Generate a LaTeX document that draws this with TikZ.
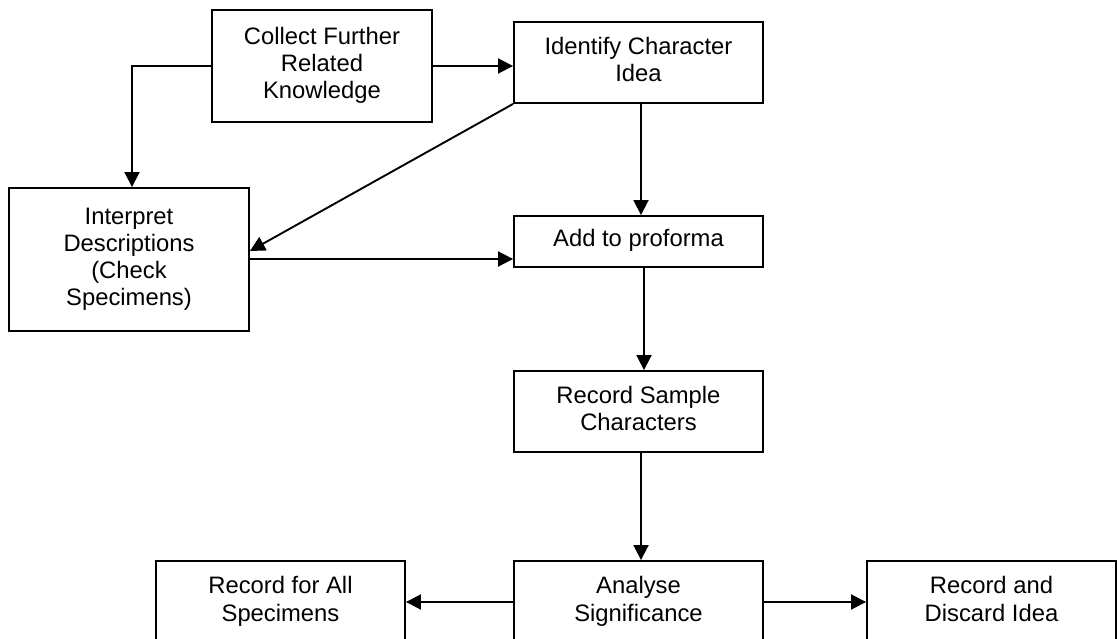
\documentclass[tikz,border=0pt]{standalone}
\usepackage{fontspec}
\setmainfont{Liberation Sans}
\usetikzlibrary{arrows.meta}
\tikzset{
  box/.style={draw=black, line width=1.9pt, fill=white, align=center, inner sep=0pt,
    font=\fontsize{23.8}{27.3}\selectfont},
  arr/.style={draw=black, line width=1.9pt, -{Triangle[length=15pt,width=15pt]}},
}
\begin{document}
\begin{tikzpicture}[x=1pt,y=-1pt]
\useasboundingbox (0,0) rectangle (1117,639);
\clip (0,0) rectangle (1117,639);
\fill[white] (0,0) rectangle (1117,639);

\node[box, minimum width=220pt, minimum height=112pt] (collect) at (322,66) {\strut Collect Further\\Related\\Knowledge\strut};
\node[box, minimum width=249pt, minimum height=81pt] (identify) at (638.5,62.5) {\strut Identify Character\\Idea\strut};
\node[box, minimum width=240pt, minimum height=143pt] (interpret) at (129,259.5) {\strut Interpret\\Descriptions\\(Check\\Specimens)\strut};
\node[box, minimum width=249pt, minimum height=51pt] (add) at (638.5,241.5) {\strut Add to proforma\strut};
\node[box, minimum width=249pt, minimum height=81pt] (record) at (638.5,411.5) {\strut Record Sample\\Characters\strut};
\node[box, minimum width=249pt, minimum height=82pt] (analyse) at (638.5,602) {\strut Analyse\\Significance\strut};
\node[box, minimum width=249pt, minimum height=82pt] (recall) at (280.5,602) {\strut Record for All\\Specimens\strut};
\node[box, minimum width=249pt, minimum height=82pt] (discard) at (991.5,602) {\strut Record and\\Discard Idea\strut};

\draw[arr] (collect.east) -- (collect.east -| identify.west);
\draw[arr] (collect.west) -| ([xshift=3pt]interpret.north);
\draw[arr] (identify.south west) -- ([yshift=8.5pt]interpret.east);
\draw[arr] ([yshift=0.5pt]interpret.east) -- ([yshift=0.5pt]interpret.east -| add.west);
\draw[arr] ([xshift=2.5pt]identify.south) -- ([xshift=2.5pt]add.north);
\draw[arr] ([xshift=5.5pt]add.south) -- ([xshift=5.5pt]record.north);
\draw[arr] ([xshift=2.5pt]record.south) -- ([xshift=2.5pt]analyse.north);
\draw[arr] (analyse.west) -- (recall.east);
\draw[arr] (analyse.east) -- (discard.west);
\end{tikzpicture}
\end{document}
